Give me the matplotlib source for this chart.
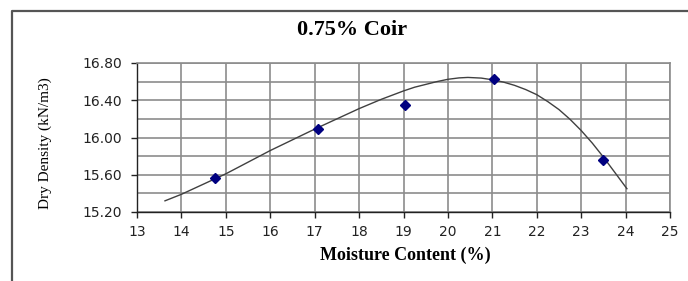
import numpy as np
import matplotlib
matplotlib.use("Agg")
import matplotlib.pyplot as plt
from matplotlib.lines import Line2D
from matplotlib.ticker import MultipleLocator, FormatStrFormatter

# measured points
moisture = [14.75, 17.07, 19.03, 21.04, 23.50]
density = [15.565, 16.09, 16.345, 16.625, 15.755]

# trend line
trend_x = [13.63, 14.0, 14.5, 15.0, 15.5, 16.0, 16.5, 17.0, 17.5, 18.0, 18.5,
           19.0, 19.25, 19.5, 19.75, 20.0, 20.25, 20.45, 20.75, 21.0, 21.25,
           21.5, 21.75, 22.0, 22.25, 22.5, 22.75, 23.0, 23.25, 23.5, 23.75, 24.03]
trend_y = [15.32, 15.39, 15.50, 15.61, 15.735, 15.86, 15.975, 16.09, 16.20, 16.31, 16.41,
           16.50, 16.54, 16.57, 16.60, 16.625, 16.64, 16.645, 16.638, 16.62, 16.595,
           16.56, 16.515, 16.46, 16.385, 16.30, 16.195, 16.075, 15.94, 15.79, 15.63, 15.45]

serif = "Liberation Serif"

fig = plt.figure(figsize=(6.88, 2.81), dpi=100)
fig.patch.set_facecolor("white")

# outer chart-area frame (left and top edges visible)
frame_x = [12 / 688, 12 / 688, 0.999]
frame_y = [0.0, 1 - 11 / 281, 1 - 11 / 281]
fig.lines.append(Line2D(frame_x, frame_y, transform=fig.transFigure,
                        color="#555555", linewidth=1.6))

ax = fig.add_axes([137 / 688, 1 - 212 / 281, (670 - 137) / 688, (212 - 63) / 281])

ax.plot(trend_x, trend_y, color="#404040", linewidth=1.0, zorder=3)
ax.plot(moisture, density, linestyle="none", marker="D", markersize=5,
        color="#000080", zorder=4)

ax.set_xlim(13, 25)
ax.set_ylim(15.2, 16.8)
ax.xaxis.set_major_locator(MultipleLocator(1))
ax.yaxis.set_major_locator(MultipleLocator(0.4))
ax.yaxis.set_minor_locator(MultipleLocator(0.2))
ax.yaxis.set_major_formatter(FormatStrFormatter("%.2f"))

ax.grid(True, which="both", color="#8c8c8c", linewidth=1.2)
ax.set_axisbelow(True)

for side in ["top", "right"]:
    ax.spines[side].set_color("#8c8c8c")
    ax.spines[side].set_linewidth(1.2)
for side in ["left", "bottom"]:
    ax.spines[side].set_color("#222222")
    ax.spines[side].set_linewidth(1.0)

ax.tick_params(which="major", direction="out", length=4, width=1, color="#222222",
               labelsize=10, labelcolor="#222222")
ax.tick_params(axis="y", which="major", pad=7)
ax.tick_params(axis="x", which="major", pad=5)
ax.tick_params(which="minor", length=0)

ax.set_ylabel("Dry Density (kN/m3)", family=serif, fontsize=11)
ax.yaxis.set_label_coords(-0.159, 0.463)
ax.set_xlabel("Moisture Content (%)", family=serif, fontsize=13, fontweight="bold")
ax.xaxis.set_label_coords(0.503, -0.232)
fig.text(352 / 688, 1 - 30 / 281, "0.75% Coir", family=serif, fontsize=16,
         fontweight="bold", ha="center", va="center")

fig.savefig("out.png", dpi=100)
